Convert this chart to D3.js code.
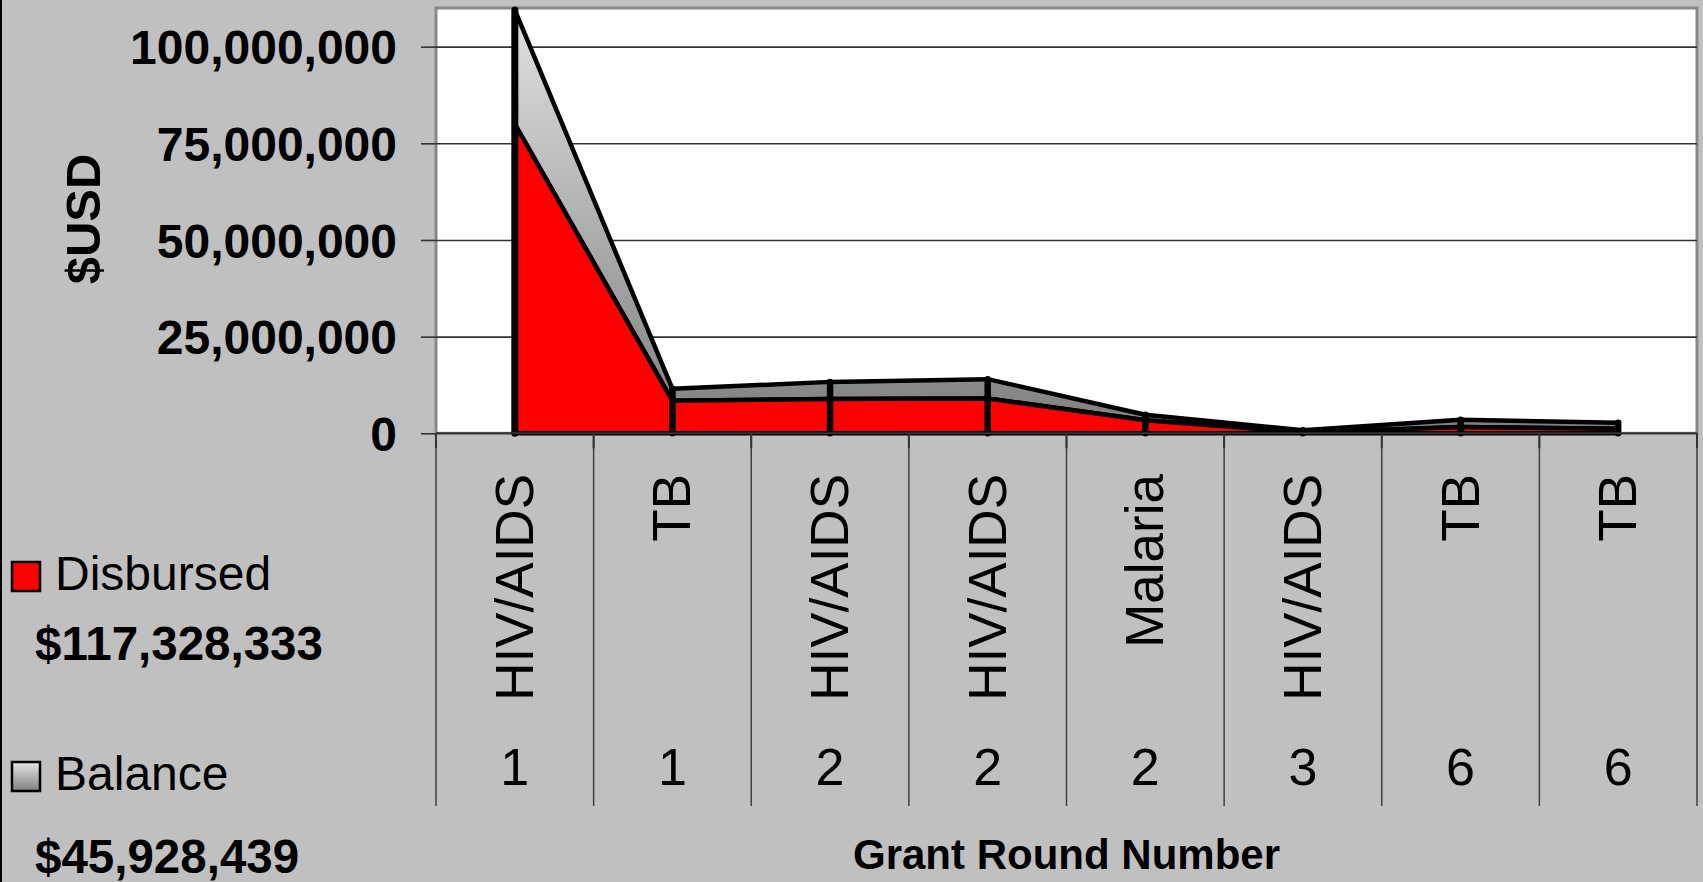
<!DOCTYPE html>
<html>
<head>
<meta charset="utf-8">
<script src="https://cdn.jsdelivr.net/npm/d3@7"></script>
<style>
  html, body { margin: 0; padding: 0; background: #c0c0c0; }
  svg { display: block; }
  text { font-family: "Liberation Sans", Arial, sans-serif; fill: #000; }
</style>
</head>
<body>
<svg id="chart" width="1703" height="882"></svg>
<script>
// ---- data ----
const categories = ["HIV/AIDS", "TB", "HIV/AIDS", "HIV/AIDS", "Malaria", "HIV/AIDS", "TB", "TB"];
const rounds = ["1", "1", "2", "2", "2", "3", "6", "6"];
const disbursed = [80000000, 8400000, 8900000, 9000000, 3400000, 200000, 1600000, 1200000];
const balance = [29500000, 3100000, 4400000, 5000000, 1400000, 600000, 1900000, 1500000];
const yTicks = [0, 25000000, 50000000, 75000000, 100000000];
const yMax = 110000000;
const seriesNames = ["Disbursed", "Balance"];
const seriesTotals = ["$117,328,333", "$45,928,439"];
const yTitle = "$USD";
const xTitle = "Grant Round Number";

// ---- layout ----
const W = 1703, H = 882;
const plot = { left: 436, right: 1697, top: 8, bottom: 433.3 };
const catBottom = 806;

const svg = d3.select("#chart");
const defs = svg.append("defs");
const grad = defs.append("linearGradient").attr("id", "balGrad")
  .attr("gradientUnits", "userSpaceOnUse")
  .attr("x1", 0).attr("x2", 0).attr("y1", plot.top).attr("y2", plot.bottom);
grad.append("stop").attr("offset", "0%").attr("stop-color", "#e2e2e2");
grad.append("stop").attr("offset", "100%").attr("stop-color", "#7e7e7e");
const grad2 = defs.append("linearGradient").attr("id", "legGrad")
  .attr("x1", 0).attr("x2", 0).attr("y1", 0).attr("y2", 1);
grad2.append("stop").attr("offset", "0%").attr("stop-color", "#e6e6e6");
grad2.append("stop").attr("offset", "100%").attr("stop-color", "#808080");

// background
svg.append("rect").attr("width", W).attr("height", H).attr("fill", "#c0c0c0");
svg.append("line").attr("x1", 1).attr("x2", 1).attr("y1", 0).attr("y2", H)
  .attr("stroke", "#000").attr("stroke-width", 2);

const idx = d3.range(categories.length);
const x = d3.scaleBand().domain(idx).range([plot.left, plot.right]).paddingInner(0).paddingOuter(0);
const cx = i => x(i) + x.bandwidth() / 2;
const y = d3.scaleLinear().domain([0, yMax]).range([plot.bottom, plot.top]);

// plot area
svg.append("rect")
  .attr("x", plot.left).attr("y", plot.top)
  .attr("width", plot.right - plot.left).attr("height", plot.bottom - plot.top)
  .attr("fill", "#fff").attr("stroke", "#888").attr("stroke-width", 3);

// gridlines
const grid = svg.append("g").attr("transform", `translate(${plot.left},0)`)
  .call(d3.axisLeft(y).tickValues(yTicks.filter(v => v > 0)).tickSize(-(plot.right - plot.left)).tickFormat(""));
grid.select(".domain").remove();
grid.selectAll("line").attr("stroke", "#333").attr("stroke-width", 1.6);

// y axis with outward ticks and labels
const yAxis = svg.append("g").attr("transform", `translate(${plot.left},0)`)
  .call(d3.axisLeft(y).tickValues(yTicks).tickSize(15).tickPadding(24).tickFormat(d3.format(",")));
yAxis.select(".domain").remove();
yAxis.selectAll("line").attr("stroke", "#333").attr("stroke-width", 1.6);
yAxis.selectAll("text")
  .attr("font-family", "'Liberation Sans', Arial, sans-serif")
  .attr("font-size", 48).attr("font-weight", "bold").attr("fill", "#000").attr("dy", "0.36em");

// stacked areas
const rows = idx.map(i => ({ i, disbursed: disbursed[i], balance: balance[i] }));
const stack = d3.stack().keys(["disbursed", "balance"]);
const layers = stack(rows);
const area = d3.area().x(d => cx(d.data.i)).y0(d => y(d[0])).y1(d => y(d[1]));
const fills = { disbursed: "#ff0000", balance: "url(#balGrad)" };

svg.append("g").selectAll("path").data(layers.slice().reverse()).join("path")
  .attr("d", area)
  .attr("fill", d => fills[d.key])
  .attr("stroke", "#000").attr("stroke-width", 4.5).attr("stroke-linejoin", "round");

// drop lines
svg.append("g").selectAll("line").data(layers[1]).join("line")
  .attr("x1", d => cx(d.data.i)).attr("x2", d => cx(d.data.i))
  .attr("y1", d => y(d[1])).attr("y2", y(0))
  .attr("stroke", "#000").attr("stroke-width", (d, i) => i === 0 ? 7 : 6.5)
  .attr("stroke-linecap", "round");

// x axis baseline
svg.append("line").attr("x1", plot.left).attr("x2", plot.right)
  .attr("y1", y(0)).attr("y2", y(0)).attr("stroke", "#333").attr("stroke-width", 2);

// category separators
const bounds = idx.map(i => x(i)).concat([plot.right]);
svg.append("g").selectAll("line").data(bounds).join("line")
  .attr("x1", d => d).attr("x2", d => d)
  .attr("y1", y(0)).attr("y2", catBottom)
  .attr("stroke", "#404040").attr("stroke-width", 1.5);
svg.append("g").selectAll("line").data(bounds).join("line")
  .attr("x1", d => d).attr("x2", d => d)
  .attr("y1", y(0)).attr("y2", y(0) + 15)
  .attr("stroke", "#333").attr("stroke-width", 2);

// category labels (rotated)
svg.append("g").selectAll("text").data(idx).join("text")
  .attr("transform", i => `translate(${cx(i) + 18},474) rotate(-90)`)
  .attr("text-anchor", "end")
  .attr("font-size", 53)
  .text(i => categories[i]);

// round numbers
svg.append("g").selectAll("text").data(idx).join("text")
  .attr("x", i => cx(i)).attr("y", 785)
  .attr("text-anchor", "middle").attr("font-size", 52)
  .text(i => rounds[i]);

// axis titles
svg.append("text")
  .attr("transform", "translate(100,219) rotate(-90)")
  .attr("text-anchor", "middle").attr("font-size", 49).attr("font-weight", "bold")
  .text(yTitle);
svg.append("text")
  .attr("x", (plot.left + plot.right) / 2).attr("y", 869)
  .attr("text-anchor", "middle").attr("font-size", 42).attr("font-weight", "bold")
  .text(xTitle);

// legend
const legY = [562, 762];
const legFill = ["#ff0000", "url(#legGrad)"];
const legTotY = [660, 873];
const leg = svg.append("g");
seriesNames.forEach((name, k) => {
  leg.append("rect").attr("x", 12).attr("y", legY[k]).attr("width", 28).attr("height", 29)
    .attr("fill", legFill[k]).attr("stroke", "#000").attr("stroke-width", 2.5);
  leg.append("text").attr("x", 55).attr("y", legY[k] + 28)
    .attr("font-size", 48).text(name);
  leg.append("text").attr("x", 35).attr("y", legTotY[k])
    .attr("font-size", 47.5).attr("font-weight", "bold").text(seriesTotals[k]);
});
</script>
</body>
</html>
